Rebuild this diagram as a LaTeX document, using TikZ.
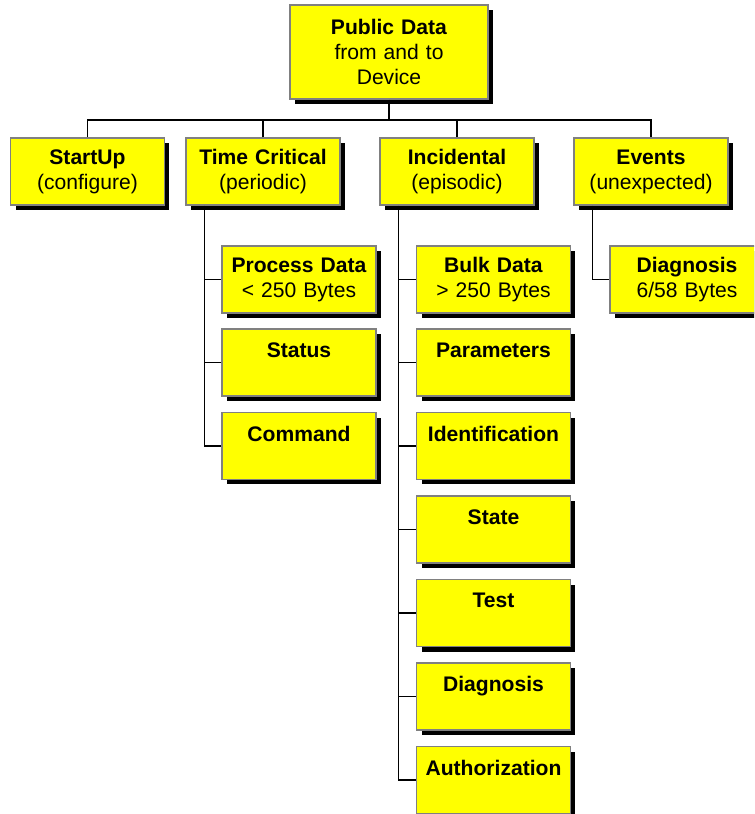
\documentclass[tikz,border=0pt]{standalone}
\usepackage{fontspec}
\setmainfont{Liberation Sans}
\usetikzlibrary{shadows}
\definecolor{box_yellow}{RGB}{255, 255, 0}
\definecolor{box_gray}{RGB}{128, 128, 128}

\tikzset{
  databox/.style={draw=box_gray, line width=0.6pt, fill=box_yellow,
    drop shadow={shadow xshift=0.1cm, shadow yshift=-0.1cm, fill=black, opacity=1},
    align=center, inner sep=0pt, text width=3.08cm, minimum height=1.34cm,
    font=\fontsize{12}{14.2}\selectfont},
  link/.style={line width=0.8pt}
}

\begin{document}
\begin{tikzpicture}[x=0.02cm, y=-0.02cm]
\useasboundingbox (0, 0) rectangle (754, 814);
\clip (0, 0) rectangle (754, 814);

\node[databox, text width=3.96cm, minimum height=1.88cm] (pub) at (389, 52)
  {\textbf{Public Data}\\from and to\\Device};

\node[databox] (start) at (87.5, 171.5) {\textbf{StartUp}\\(configure)};
\node[databox] (time) at (263, 171.5) {\textbf{Time Critical}\\(periodic)};
\node[databox] (incid) at (457, 171.5) {\textbf{Incidental}\\(episodic)};
\node[databox] (events) at (651, 171.5) {\textbf{Events}\\(unexpected)};

% time critical
\node[databox] (pd) at (299, 279.5) {\textbf{Process Data}\\< 250 Bytes};
\node[databox] (stat) at (299, 362.5) {\textbf{Status}\\\mbox{}};
\node[databox] (cmd) at (299, 446) {\textbf{Command}\\\mbox{}};

% incidental
\node[databox] (bulk) at (493.5, 279.5) {\textbf{Bulk Data}\\> 250 Bytes};
\node[databox] (param) at (493.5, 362.5) {\textbf{Parameters}\\\mbox{}};
\node[databox] (ident) at (493.5, 446) {\textbf{Identification}\\\mbox{}};
\node[databox] (state) at (493.5, 529.5) {\textbf{State}\\\mbox{}};
\node[databox] (test) at (493.5, 613) {\textbf{Test}\\\mbox{}};
\node[databox] (diag) at (493.5, 696.5) {\textbf{Diagnosis}\\\mbox{}};
\node[databox] (auth) at (493.5, 780) {\textbf{Authorization}\\\mbox{}};

% events
\node[databox] (ediag) at (687, 279.5) {\textbf{Diagnosis}\\6/58 Bytes};

\coordinate (bus) at (389, 120);
\draw[link] (pub) -- (bus);
\draw[link] (start.north) |- (bus) -| (events.north);
\draw[link] (time.north) -- (time.north |- bus);
\draw[link] (incid.north) -- (incid.north |- bus);

\draw[link] ([xshift=0.38cm]time.south west) coordinate (tstem) |- (cmd.west);
\foreach \n in {pd, stat}
  \draw[link] (\n.west) -- (\n.west -| tstem);

\draw[link] ([xshift=0.38cm]incid.south west) coordinate (istem) |- (auth.west);
\foreach \n in {bulk, param, ident, state, test, diag}
  \draw[link] (\n.west) -- (\n.west -| istem);

\draw[link] ([xshift=0.38cm]events.south west) |- (ediag.west);
\end{tikzpicture}
\end{document}
